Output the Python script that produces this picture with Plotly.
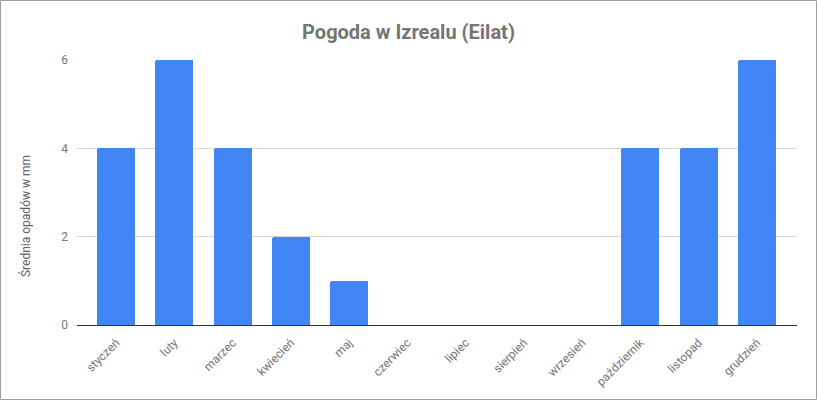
import plotly.graph_objects as go

months = ["styczeń", "luty", "marzec", "kwiecień", "maj", "czerwiec", "lipiec",
          "sierpień", "wrzesień", "październik", "listopad", "grudzień"]
rain_mm = [4, 6, 4, 2, 1, 0, 0, 0, 0, 4, 4, 6]
y_ticks = [0, 2, 4, 6]

W, H = 817, 400
ml, mr, mt, mb = 77, 20, 60, 75

fig = go.Figure(go.Bar(
    x=list(range(len(months))), y=rain_mm,
    marker=dict(color="#4285F4", line=dict(width=0), cornerradius=2),
    width=0.65,
))

pw = W - ml - mr
ph = H - mt - mb
fig.update_layout(
    width=W, height=H,
    margin=dict(l=ml, r=mr, t=mt, b=mb, autoexpand=False),
    paper_bgcolor="white", plot_bgcolor="white",
    font=dict(family="Roboto", size=12, color="#757575"),
    title=dict(text="<b>Pogoda w Izrealu (Eilat)</b>", x=0.5, xref="container",
               xanchor="center", y=1 - 32 / H, yref="container", yanchor="middle",
               font=dict(family="Roboto", size=20, color="#757575")),
    showlegend=False,
    bargap=0,
    xaxis=dict(
        tickmode="array", tickvals=list(range(len(months))), ticktext=months,
        tickangle=-45, range=[-0.5 - 10 / 58.3, 11.5 + 11 / 58.3],
        showgrid=False, zeroline=False, showline=True, linecolor="#333333",
        linewidth=1, ticks="", ticklabelstandoff=5,
        tickfont=dict(size=12, color="#757575"),
        fixedrange=True,
    ),
    yaxis=dict(
        range=[0, 6], tickmode="array", tickvals=y_ticks,
        showgrid=True, gridcolor="#d9d9d9", gridwidth=1,
        zeroline=False, showline=False, ticks="", ticklabelstandoff=8,
        tickfont=dict(size=12, color="#757575"),
        fixedrange=True,
    ),
    annotations=[dict(text="Średnia opadów w mm", xref="paper", yref="paper",
                      x=(25 - ml) / pw, y=(H - mb - 216) / ph,
                      xanchor="center", yanchor="middle", textangle=-90,
                      showarrow=False,
                      font=dict(family="Roboto", size=12, color="#616161"))],
    shapes=[dict(type="rect", xref="paper", yref="paper",
                 x0=-(ml - 0.5) / pw, x1=1 + (mr - 0.5) / pw,
                 y0=-(mb - 0.5) / ph, y1=1 + (mt - 0.5) / ph,
                 line=dict(color="#9e9e9e", width=1), layer="above")],
)

fig.write_html(
    "out.html",
    config={"displayModeBar": False},
    post_script="document.body.style.margin='0';document.body.style.padding='0';"
                "document.body.style.overflow='hidden';",
)
